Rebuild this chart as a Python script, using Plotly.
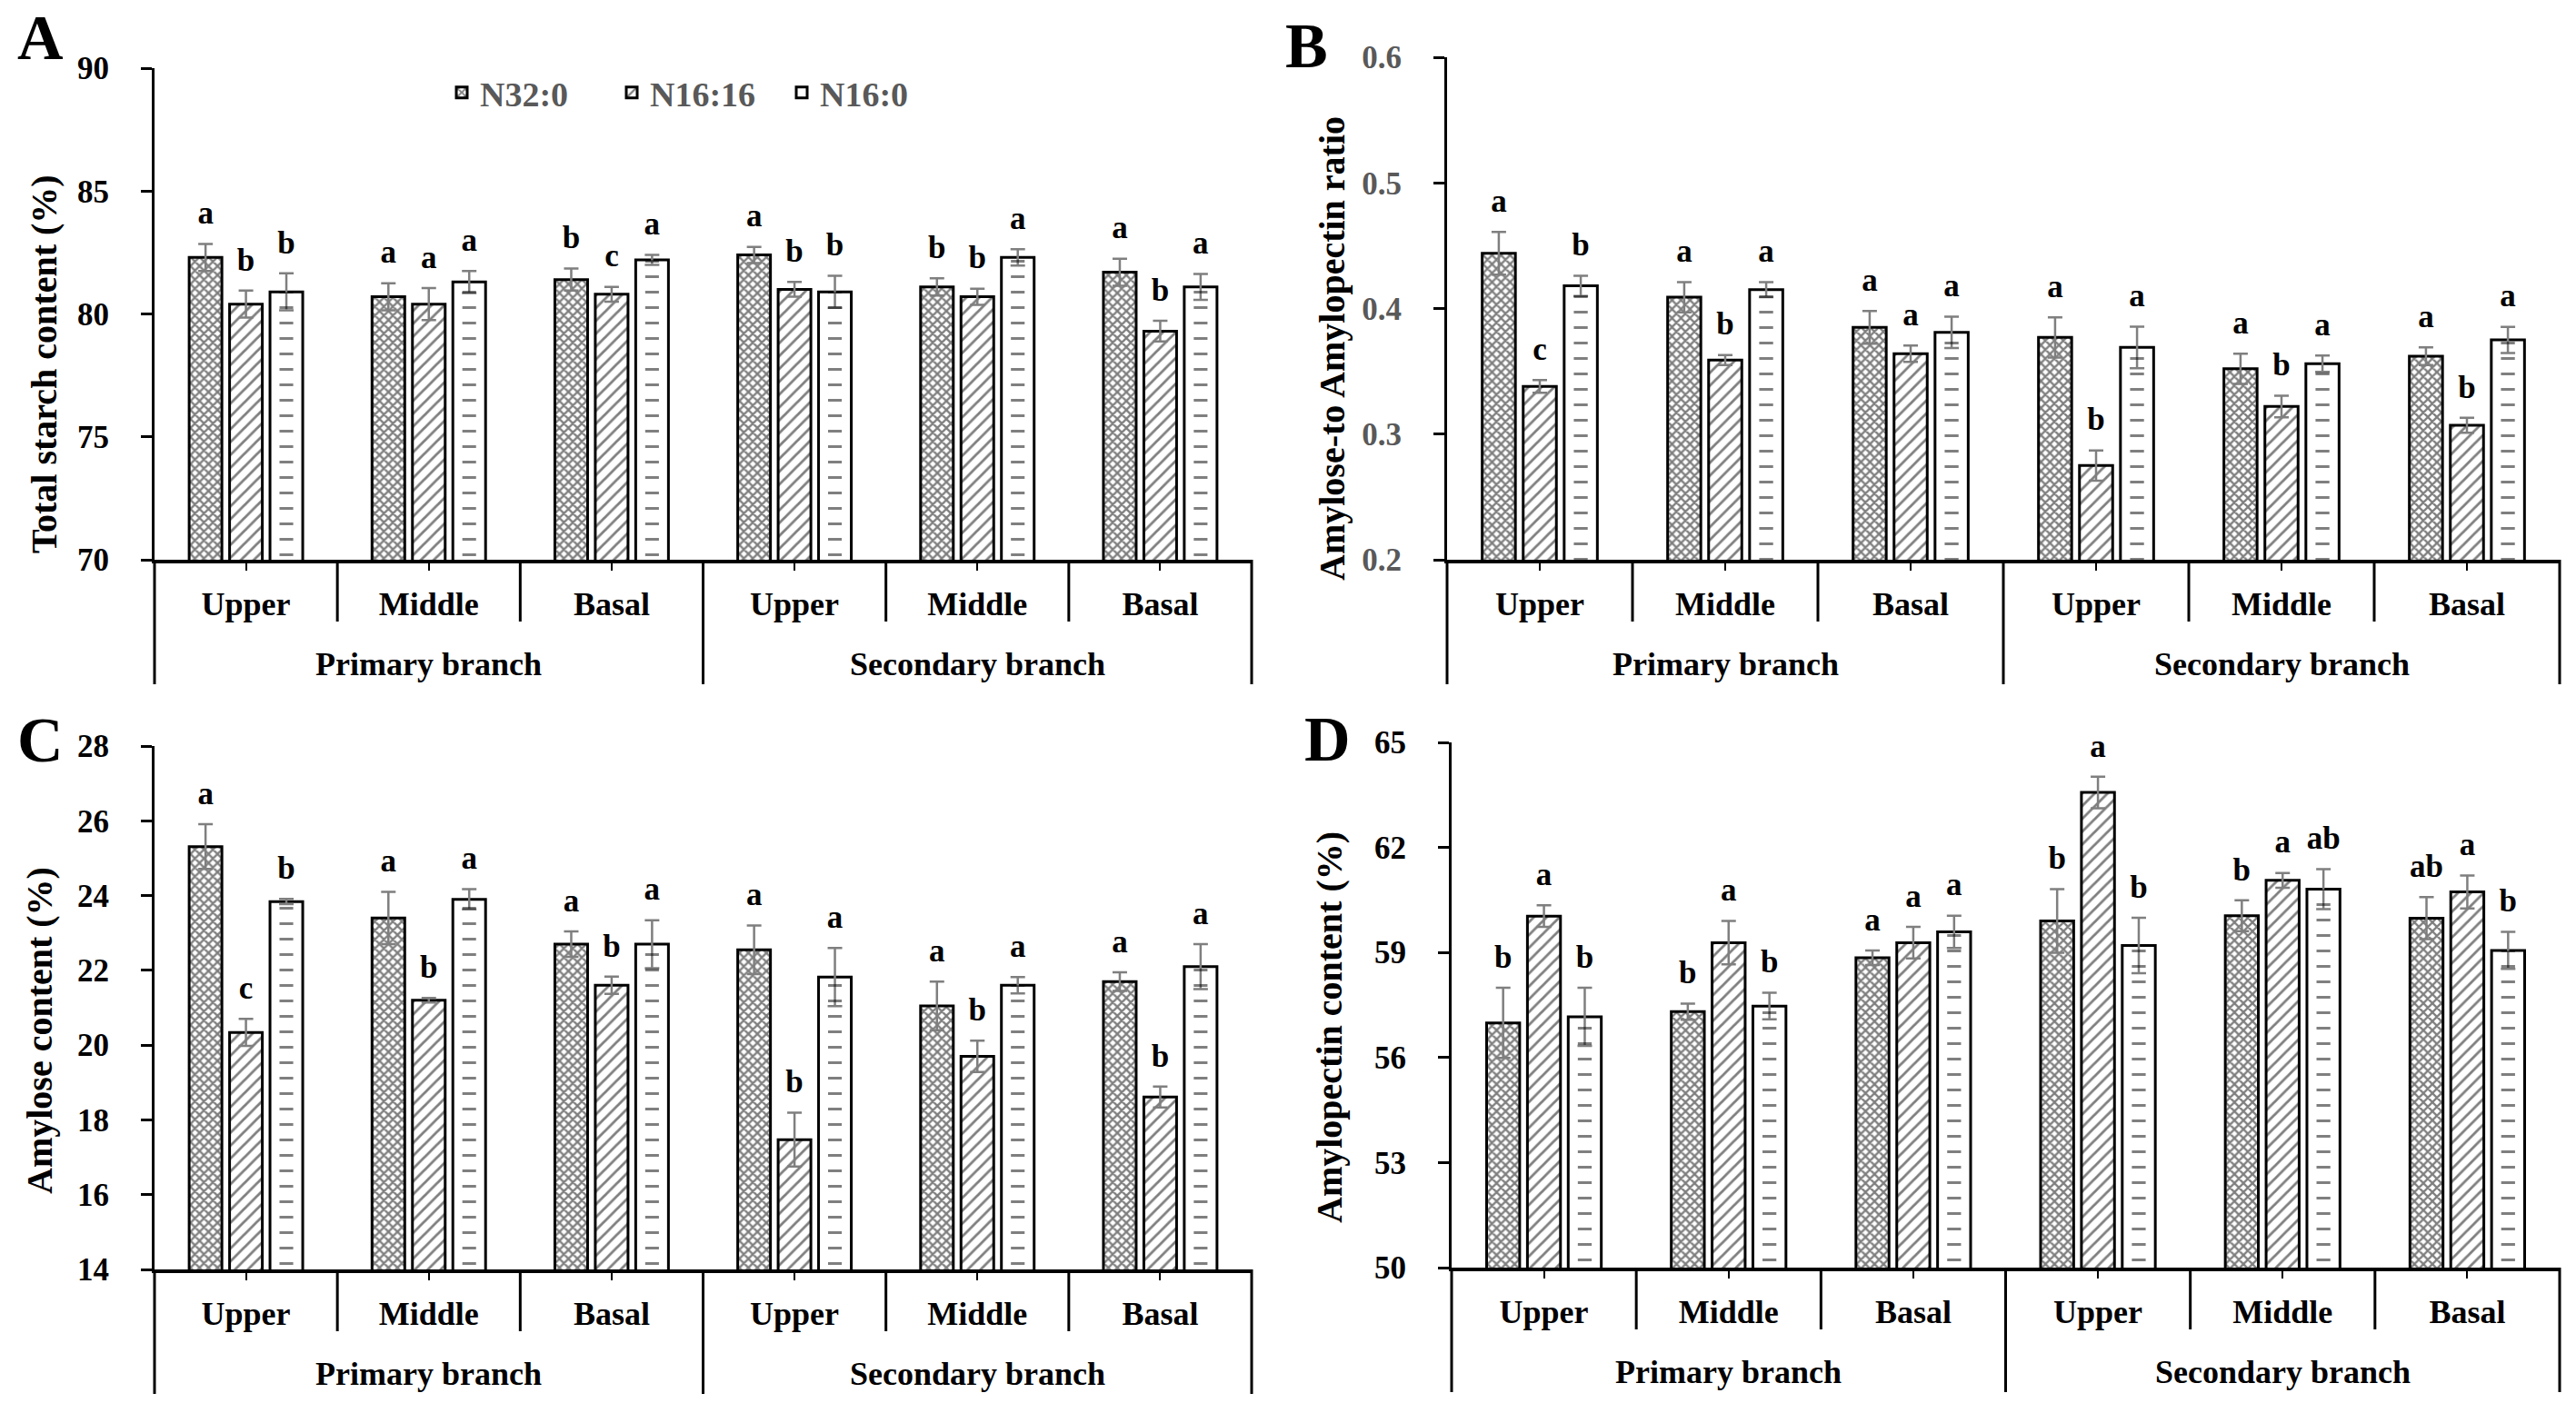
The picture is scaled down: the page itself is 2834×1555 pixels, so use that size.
import plotly.graph_objects as go

W, H = 2834, 1555

# categories
positions = ["Upper", "Middle", "Basal", "Upper", "Middle", "Basal"]
branches = ["Primary branch", "Secondary branch"]
treatments = ["N32:0", "N16:16", "N16:0"]

# A - total starch content (%)
starch_n32 = [82.3, 80.7, 81.4, 82.4, 81.1, 81.7]
starch_n1616 = [80.4, 80.4, 80.8, 81.0, 80.7, 79.3]
starch_n160 = [80.9, 81.3, 82.2, 80.9, 82.3, 81.1]
starch_n32_err = [0.55, 0.55, 0.45, 0.33, 0.35, 0.55]
starch_n1616_err = [0.55, 0.65, 0.30, 0.30, 0.33, 0.42]
starch_n160_err = [0.75, 0.45, 0.20, 0.65, 0.33, 0.53]
starch_n32_sig = ["a", "a", "b", "a", "b", "a"]
starch_n1616_sig = ["b", "a", "c", "b", "b", "b"]
starch_n160_sig = ["b", "a", "a", "b", "a", "a"]

# B - amylose to amylopectin ratio
ratio_n32 = [0.444, 0.409, 0.385, 0.377, 0.352, 0.362]
ratio_n1616 = [0.338, 0.359, 0.364, 0.275, 0.322, 0.307]
ratio_n160 = [0.418, 0.415, 0.381, 0.369, 0.356, 0.375]
ratio_n32_err = [0.017, 0.012, 0.013, 0.016, 0.012, 0.007]
ratio_n1616_err = [0.005, 0.004, 0.0065, 0.012, 0.0086, 0.006]
ratio_n160_err = [0.008, 0.006, 0.0125, 0.0165, 0.0065, 0.0104]
ratio_n32_sig = ["a", "a", "a", "a", "a", "a"]
ratio_n1616_sig = ["c", "b", "a", "b", "b", "b"]
ratio_n160_sig = ["b", "a", "a", "a", "a", "a"]

# C - amylose content (%)
amylose_n32 = [25.31, 23.4, 22.7, 22.55, 21.05, 21.7]
amylose_n1616 = [20.34, 21.2, 21.6, 17.47, 19.7, 18.61]
amylose_n160 = [23.84, 23.9, 22.7, 21.82, 21.6, 22.1]
amylose_n32_err = [0.6, 0.7, 0.34, 0.65, 0.65, 0.25]
amylose_n1616_err = [0.36, 0.06, 0.23, 0.72, 0.42, 0.28]
amylose_n160_err = [0.07, 0.27, 0.64, 0.78, 0.22, 0.6]
amylose_n32_sig = ["a", "a", "a", "a", "a", "a"]
amylose_n1616_sig = ["c", "b", "b", "b", "b", "b"]
amylose_n160_sig = ["b", "a", "a", "a", "a", "a"]

# D - amylopectin content (%)
amylopectin_n32 = [56.99, 57.31, 58.85, 59.9, 60.05, 59.98]
amylopectin_n1616 = [60.04, 59.28, 59.28, 63.57, 61.06, 60.73]
amylopectin_n160 = [57.16, 57.47, 59.59, 59.2, 60.81, 59.06]
amylopectin_n32_err = [1.0, 0.23, 0.21, 0.91, 0.44, 0.6]
amylopectin_n1616_err = [0.31, 0.62, 0.45, 0.45, 0.21, 0.47]
amylopectin_n160_err = [0.83, 0.38, 0.46, 0.79, 0.57, 0.53]
amylopectin_n32_sig = ["b", "b", "a", "b", "b", "ab"]
amylopectin_n1616_sig = ["a", "a", "a", "a", "a", "a"]
amylopectin_n160_sig = ["b", "b", "a", "b", "ab", "b"]

panels = [
    dict(tag="A", title="Total starch content (%)", yr=[70, 90], dt=5, tc="black",
         vals=[starch_n32, starch_n1616, starch_n160],
         errs=[starch_n32_err, starch_n1616_err, starch_n160_err],
         sig=[starch_n32_sig, starch_n1616_sig, starch_n160_sig],
         box=(170, 1377, 75, 616), tpos=(48, 401), lpos=(44, 41)),
    dict(tag="B", title="Amylose-to Amylopectin ratio", yr=[0.2, 0.6], dt=0.1, tc="#595959",
         vals=[ratio_n32, ratio_n1616, ratio_n160],
         errs=[ratio_n32_err, ratio_n1616_err, ratio_n160_err],
         sig=[ratio_n32_sig, ratio_n1616_sig, ratio_n160_sig],
         box=(1592, 2816, 63, 616), tpos=(1465, 384), lpos=(1437, 51)),
    dict(tag="C", title="Amylose content (%)", yr=[14, 28], dt=2, tc="black",
         vals=[amylose_n32, amylose_n1616, amylose_n160],
         errs=[amylose_n32_err, amylose_n1616_err, amylose_n160_err],
         sig=[amylose_n32_sig, amylose_n1616_sig, amylose_n160_sig],
         box=(170, 1377, 821, 1397), tpos=(43, 1134), lpos=(44, 814)),
    dict(tag="D", title="Amylopectin content (%)", yr=[50, 65], dt=3, tc="black",
         vals=[amylopectin_n32, amylopectin_n1616, amylopectin_n160],
         errs=[amylopectin_n32_err, amylopectin_n1616_err, amylopectin_n160_err],
         sig=[amylopectin_n32_sig, amylopectin_n1616_sig, amylopectin_n160_sig],
         box=(1597, 2816, 817, 1395), tpos=(1462, 1131), lpos=(1460, 813)),
]

FONT = "Liberation Serif, Times New Roman, serif"
bw, pitch = 0.179, 0.221
patterns = [
    dict(shape="x", fgcolor="black", bgcolor="white", size=7, solidity=0.55),
    dict(shape="/", fgcolor="black", bgcolor="white", size=10, solidity=0.28),
    dict(shape="", fgcolor="black", bgcolor="white"),
]

fig = go.Figure()
shapes, annotations = [], []
xs = list(range(len(positions)))

for n, p in enumerate(panels, start=1):
    xa = "x" if n == 1 else f"x{n}"
    ya = "y" if n == 1 else f"y{n}"
    for k in range(3):
        fig.add_trace(go.Bar(
            x=xs, y=p["vals"][k], name=treatments[k], xaxis=xa, yaxis=ya,
            width=bw, offset=(k - 1) * pitch - bw / 2,
            marker=dict(color="white", line=dict(color="black", width=3),
                        pattern=patterns[k]),
            error_y=dict(type="data", array=p["errs"][k], color="#7f7f7f",
                         thickness=2.5, width=8),
            legendgroup=treatments[k], showlegend=(n == 1),
        ))
        if k == 2:
            # short dashes down the middle of the N16:0 bars
            fig.add_trace(go.Bar(
                x=xs, y=p["vals"][k], xaxis=xa, yaxis=ya,
                width=0.075, offset=pitch - 0.0375,
                marker=dict(color="rgba(0,0,0,0)", line=dict(width=0),
                            pattern=dict(shape="-", fgcolor="black",
                                         bgcolor="rgba(0,0,0,0)", size=17, solidity=0.18)),
                showlegend=False, hoverinfo="skip",
            ))
        # significance letters sit just above the error bars
        fig.add_trace(go.Scatter(
            x=[i + (k - 1) * pitch for i in xs],
            y=[v + e for v, e in zip(p["vals"][k], p["errs"][k])],
            text=p["sig"][k], mode="markers+text", textposition="top center",
            marker=dict(size=20, color="rgba(0,0,0,0)"),
            textfont=dict(family=FONT, size=35, color="black", weight="bold"),
            xaxis=xa, yaxis=ya, showlegend=False, cliponaxis=False, hoverinfo="skip",
        ))

    x0, x1, yt, yb = p["box"]
    fig.update_layout(**{
        ("xaxis" if n == 1 else f"xaxis{n}"): dict(
            domain=[x0 / W, x1 / W], anchor=ya, range=[-0.5, 5.5], automargin=False,
            tickvals=xs, ticktext=positions, ticks="outside", ticklen=8, tickwidth=2,
            tickcolor="black", showline=True, linewidth=4, linecolor="black",
            showgrid=False, zeroline=False, ticklabelstandoff=6,
            tickfont=dict(family=FONT, size=36, color="black", weight="bold")),
        ("yaxis" if n == 1 else f"yaxis{n}"): dict(
            domain=[1 - yb / H, 1 - yt / H], anchor=xa, range=p["yr"], dtick=p["dt"],
            tick0=p["yr"][0], ticks="outside", ticklen=12, tickwidth=3, tickcolor="black",
            showline=True, linewidth=3, linecolor="black", showgrid=False, zeroline=False,
            ticklabelstandoff=28, automargin=False,
            tickfont=dict(family=FONT, size=35, color=p["tc"], weight="bold")),
    })

    # category separators below the axis
    nb = len(positions)
    for i in range(nb + 1):
        outer = i in (0, nb // 2, nb)
        shapes.append(dict(
            type="line", xref=f"{xa} domain", yref=f"{ya} domain",
            x0=i / nb, x1=i / nb, ysizemode="pixel", yanchor=0,
            y0=0, y1=-137 if outer else -68,
            line=dict(color="black", width=3)))
    for g, br in enumerate(branches):
        annotations.append(dict(
            text=br, xref=xa, yref=f"{ya} domain", x=(nb // 2) * g + 1, y=0,
            yshift=-115, yanchor="middle", showarrow=False,
            font=dict(family=FONT, size=36, color="black", weight="bold")))
    annotations.append(dict(
        text=p["title"], xref="paper", yref="paper", x=p["tpos"][0] / W,
        y=1 - p["tpos"][1] / H, textangle=-90, showarrow=False,
        xanchor="center", yanchor="middle",
        font=dict(family=FONT, size=40, color="black", weight="bold")))
    annotations.append(dict(
        text=p["tag"], xref="paper", yref="paper", x=p["lpos"][0] / W,
        y=1 - p["lpos"][1] / H, showarrow=False, xanchor="center", yanchor="middle",
        font=dict(family=FONT, size=70, color="black", weight="bold")))

fig.update_layout(
    width=W, height=H, margin=dict(l=0, r=0, t=0, b=0, autoexpand=False),
    paper_bgcolor="white", plot_bgcolor="white", barmode="overlay",
    shapes=shapes, annotations=annotations,
    legend=dict(orientation="h", x=488 / W, xanchor="left", y=1 - 102 / H,
                yanchor="middle", bgcolor="rgba(0,0,0,0)", itemwidth=30,
                entrywidth=142, entrywidthmode="pixels",
                font=dict(family=FONT, size=38, color="#595959", weight="bold")),
)

fig.write_html("out.html", config={"displayModeBar": False},
               post_script="document.body.style.margin='0px';")
